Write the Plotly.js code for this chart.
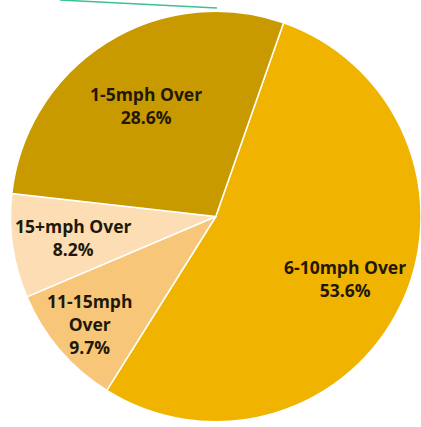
<!DOCTYPE html>
<html>
<head>
<meta charset="utf-8">
<script src="https://cdn.plot.ly/plotly-3.0.1.min.js"></script>
<style>html,body{margin:0;padding:0;overflow:hidden;background:#fff;}</style>
</head>
<body>
<div id="chart" style="width:421px;height:427px;"></div>
<script>
var labels = ["6-10mph Over", "11-15mph Over", "15+mph Over", "1-5mph Over"];
var textLabels = ["6-10mph Over", "11-15mph<br>Over", "15+mph Over", "1-5mph Over"];
var values = [53.6, 9.7, 8.2, 28.6];
var colors = ["#EFB300", "#F8C679", "#FCDDB4", "#C99A00"];

// style: radial placement of each label as a fraction of the pie radius
var labelRadius = [0.7, 0.81, 0.7, 0.64];

var W = 421, H = 427;
var rotation = 19.3;
var domX = [0.025, 1.0], domY = [0, 0.986];

var trace = {
  type: "pie",
  labels: labels,
  values: values,
  sort: false,
  direction: "clockwise",
  rotation: rotation,
  marker: {colors: colors, line: {color: "#ffffff", width: 1.5}},
  textinfo: "none",
  hoverinfo: "none",
  domain: {x: domX, y: domY},
  showlegend: false
};

// place labels at each slice's mid-angle, derived from the values
var total = values.reduce(function (a, b) { return a + b; }, 0);
var cx = (domX[0] + domX[1]) / 2 * W;
var cyFromBottom = (domY[0] + domY[1]) / 2 * H;
var R = Math.min((domX[1] - domX[0]) * W, (domY[1] - domY[0]) * H) / 2;
var annotations = [];
var cum = 0;
for (var i = 0; i < values.length; i++) {
  var mid = (rotation + (cum + values[i] / 2) / total * 360) * Math.PI / 180;
  cum += values[i];
  var r = labelRadius[i] * R;
  var px = cx + r * Math.sin(mid);
  var py = cyFromBottom + r * Math.cos(mid);
  annotations.push({
    xref: "paper", yref: "paper",
    x: px / W, y: py / H,
    xanchor: "center", yanchor: "middle",
    showarrow: false,
    align: "center",
    text: "<b>" + textLabels[i] + "<br>" + values[i].toFixed(1) + "%</b>",
    font: {family: "'Open Sans', Lato, sans-serif", size: 17.5, color: "#211808"}
  });
}

var layout = {
  width: W,
  height: H,
  margin: {l: 0, r: 0, t: 0, b: 0},
  paper_bgcolor: "#ffffff",
  showlegend: false,
  annotations: annotations,
  shapes: [{
    type: "line", xref: "paper", yref: "paper",
    x0: 60 / W, y0: 1, x1: 217 / W, y1: 1 - 8 / H,
    line: {color: "#3DBF98", width: 1.5}
  }]
};

Plotly.newPlot("chart", [trace], layout, {staticPlot: true, displayModeBar: false});
</script>
</body>
</html>
